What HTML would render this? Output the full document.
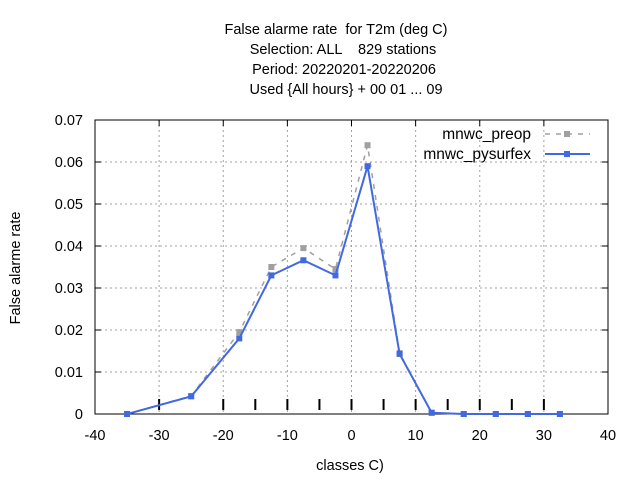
<!DOCTYPE html>
<html><head><style>body{margin:0;background:#fff}svg{display:block;font-family:"Liberation Sans",sans-serif}text{white-space:pre}</style></head>
<body>
<svg id="c" width="640" height="480">
<g id="grid"></g><g id="axes"></g><g id="series"></g>
<g font-size="14.5" text-anchor="middle" fill="#000">
<text x="336" y="34" xml:space="preserve">False alarme rate  for T2m (deg C)</text>
<text x="343" y="54" xml:space="preserve">Selection: ALL    829 stations</text>
<text x="344" y="74">Period: 20220201-20220206</text>
<text x="346" y="94">Used {All hours} + 00 01 ... 09</text>
</g>
<text font-size="14.5" transform="translate(20,268) rotate(-90)" text-anchor="middle">False alarme rate</text>
<text font-size="14.5" x="350" y="470" text-anchor="middle">classes C)</text>
<g font-size="15.5">
<text x="531" y="139" text-anchor="end">mnwc_preop</text>
<line x1="545" y1="134" x2="590" y2="134" stroke="#a0a0a0" stroke-width="1.5" stroke-dasharray="5,6"/>
<rect x="564" y="131" width="6" height="6" fill="#a0a0a0"/>
<text x="531" y="159" text-anchor="end">mnwc_pysurfex</text>
<line x1="545" y1="154" x2="590" y2="154" stroke="#4169e1" stroke-width="2"/>
<rect x="564" y="151" width="6" height="6" fill="#4169e1"/>
</g>
</svg>
<script>
const classes=[-35,-25,-17.5,-12.5,-7.5,-2.5,2.5,7.5,12.5,17.5,22.5,27.5,32.5];
const preop=[0,0.0043,0.0195,0.035,0.0395,0.0345,0.064,0.0145,0.0003,0,0,0,0];
const pysurfex=[0,0.0042,0.018,0.033,0.0366,0.033,0.059,0.0143,0.0003,0,0,0,0];
const xTicks=[-40,-30,-20,-10,0,10,20,30,40];
const yTicks=[0,0.01,0.02,0.03,0.04,0.05,0.06,0.07];
const classTicks=[-30,-20,-15,-10,-5,0,5,10,15,20,25,30];
const L=95,R=608,T=120,B=414;
const X=v=>L+(v+40)/80*(R-L), Y=v=>B-v/0.07*(B-T);
const NS="http://www.w3.org/2000/svg";
function mk(p,t,a){const e=document.createElementNS(NS,t);for(const k in a)e.setAttribute(k,a[k]);p.appendChild(e);return e;}
const g=document.getElementById('grid'),ax=document.getElementById('axes'),s=document.getElementById('series');
xTicks.forEach(v=>{const x=X(v);
 if(v>-40&&v<40){const l=mk(g,'line',{x1:x,y1:T,x2:x,y2:B,stroke:'#a0a0a0','stroke-dasharray':'2,3'});
 }
 mk(ax,'line',{x1:x,y1:T,x2:x,y2:T+6,stroke:'#000'});
 const t=mk(ax,'text',{x:x,y:B+26,'text-anchor':'middle','font-size':14.5});t.textContent=v;
 });
yTicks.forEach(v=>{const y=Y(v);
 if(v>0&&v<0.07){const l=mk(g,'line',{x1:L,y1:y,x2:R,y2:y,stroke:'#a0a0a0','stroke-dasharray':'2,3'});
 }
 mk(ax,'line',{x1:L,y1:y,x2:L+6,y2:y,stroke:'#000'});mk(ax,'line',{x1:R,y1:y,x2:R-6,y2:y,stroke:'#000'});
 const t=mk(ax,'text',{x:L-12,y:y+5,'text-anchor':'end','font-size':14.5});t.textContent=v===0?'0':v.toFixed(2);
 });
classTicks.forEach(v=>{const l=mk(ax,'line',{x1:X(v),y1:B-15,x2:X(v),y2:B-4,stroke:'#000','stroke-width':2});
 });
const fr=mk(ax,'rect',{x:L,y:T,width:R-L,height:B-T,fill:'none',stroke:'#000'});

function draw(vals,col,dash,w,name){
 const pts=classes.map((c,i)=>X(c)+','+Y(vals[i])).join(' ');
 const pl=mk(s,'polyline',{points:pts,fill:'none',stroke:col,'stroke-width':w});if(dash)pl.setAttribute('stroke-dasharray',dash);
 
 classes.forEach((c,i)=>{const r=mk(s,'rect',{x:X(c)-3,y:Y(vals[i])-3,width:6,height:6,fill:col});
 });}
draw(preop,'#a0a0a0','5,6',1.5,'mnwc-preop');
draw(pysurfex,'#4169e1',null,2,'mnwc-pysurfex');
</script>
</body></html>
